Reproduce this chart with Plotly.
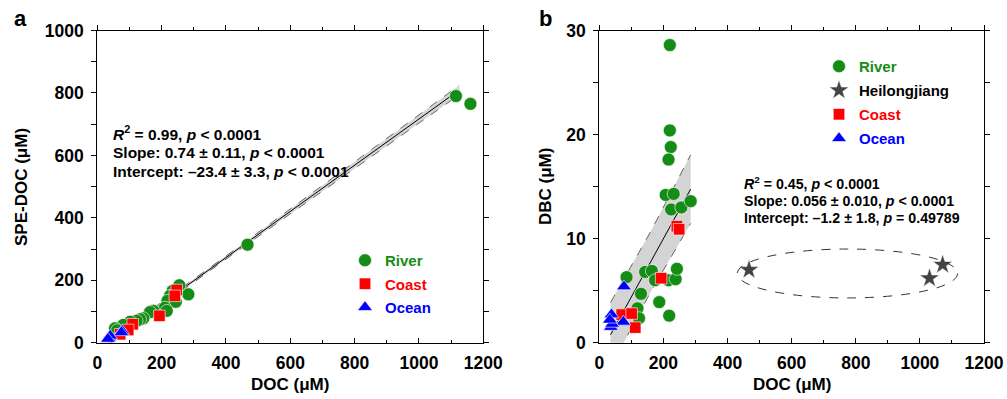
import plotly.graph_objects as go

# ---------------- Panel a data (DOC vs SPE-DOC, µM) ----------------
a_river_doc = [1115, 1160, 467, 283, 255, 234, 226, 218, 244, 210, 216, 174, 164, 143, 133, 122, 102, 81, 55, 62]
a_river_spe = [790, 765, 314, 155, 184, 166, 150, 134, 131, 112, 102, 102, 98, 78, 75, 70, 67, 57, 46, 40]
a_coast_doc = [247, 241, 193, 110, 96, 71]
a_coast_spe = [169, 150, 86, 59, 41, 27]
a_ocean_doc = [77, 38, 75, 36, 40, 33]
a_ocean_spe = [38, 18, 33, 14, 22, 12]

a_fit_slope, a_fit_int = 0.74, -23.4
a_fit_x = [35, 200, 400, 600, 800, 1000, 1125]
a_fit_half = [9, 5, 5, 7, 10, 13, 15]

# ---------------- Panel b data (DOC vs DBC, µM) ----------------
b_river_doc = [220, 220, 223, 216, 207, 232, 224, 256, 285, 85, 143, 164, 174, 216, 238, 242, 130, 187, 218, 119, 124]
b_river_dbc = [28.6, 20.4, 18.8, 17.6, 14.2, 14.3, 12.8, 13.0, 13.6, 6.3, 6.8, 6.9, 6.0, 6.0, 6.1, 7.1, 4.7, 3.9, 2.6, 3.3, 2.35]
b_heil_doc = [467, 1030, 1071]
b_heil_dbc = [7.0, 6.2, 7.5]
b_coast_doc = [242, 249, 193, 70, 101, 112]
b_coast_dbc = [11.2, 10.9, 6.2, 2.7, 2.8, 1.45]
b_ocean_doc = [77, 38, 75, 36, 40, 33]
b_ocean_dbc = [5.4, 2.7, 2.0, 1.5, 1.8, 2.2]

b_fit_slope, b_fit_int = 0.056, -1.2
b_fit_x = [35, 160, 285]
b_fit_half = [3.1, 2.9, 3.3]

# Heilongjiang ellipse extent (data units)
ell_doc = [430, 1118]
ell_dbc = [4.3, 9.0]

a_stats = ["<i>R</i><sup>2</sup> = 0.99, <i>p</i> < 0.0001",
           "Slope: 0.74 ± 0.11, <i>p</i> < 0.0001",
           "Intercept: –23.4 ± 3.3, <i>p</i> < 0.0001"]
b_stats = ["<i>R</i><sup>2</sup> = 0.45, <i>p</i> < 0.0001",
           "Slope: 0.056 ± 0.010, <i>p</i> < 0.0001",
           "Intercept: –1.2 ± 1.8, <i>p</i> = 0.49789"]

GREEN = "#158c15"
RED = "#ff0000"
BLUE = "#0000ff"
STAR = "#444444"
FONT = "Liberation Sans, Arial, Helvetica, sans-serif"

W, H = 1007, 399
def px(x): return x / W
def py(y): return 1 - y / H

fig = go.Figure()

def band(xs, half, slope, inter, xa, ya):
    up = [slope * x + inter + h for x, h in zip(xs, half)]
    lo = [slope * x + inter - h for x, h in zip(xs, half)]
    fig.add_trace(go.Scatter(x=xs + xs[::-1], y=up + lo[::-1], fill="toself",
                             fillcolor="#d4d4d4", line=dict(width=0), mode="lines",
                             showlegend=False, hoverinfo="skip", xaxis=xa, yaxis=ya))
    for arr in (up, lo):
        fig.add_trace(go.Scatter(x=xs, y=arr, mode="lines",
                                 line=dict(color="#666666", width=1, dash="dash"),
                                 showlegend=False, hoverinfo="skip", xaxis=xa, yaxis=ya))
    fig.add_trace(go.Scatter(x=[xs[0], xs[-1]], y=[slope * xs[0] + inter, slope * xs[-1] + inter],
                             mode="lines", line=dict(color="black", width=1),
                             showlegend=False, hoverinfo="skip", xaxis=xa, yaxis=ya))

band(a_fit_x, a_fit_half, a_fit_slope, a_fit_int, "x", "y")
band(b_fit_x, b_fit_half, b_fit_slope, b_fit_int, "x2", "y2")

def lab(text, color):
    return f"<span style='color:{color}'><b>{text}</b></span>"

mk_line = dict(color="white", width=0.6)
SZ_C, SZ_S, SZ_T, SZ_STAR = 13, 11.5, 13, 15

# panel a
fig.add_trace(go.Scatter(x=a_river_doc, y=a_river_spe, mode="markers", name=lab("River", GREEN),
                         marker=dict(symbol="circle", size=SZ_C, color=GREEN, line=mk_line),
                         xaxis="x", yaxis="y", legend="legend", legendgroup="ar"))
fig.add_trace(go.Scatter(x=a_coast_doc, y=a_coast_spe, mode="markers", name=lab("Coast", RED),
                         marker=dict(symbol="square", size=SZ_S, color=RED, line=mk_line),
                         xaxis="x", yaxis="y", legend="legend", legendgroup="ac"))
fig.add_trace(go.Scatter(x=a_ocean_doc, y=a_ocean_spe, mode="markers", name=lab("Ocean", BLUE),
                         marker=dict(symbol="triangle-up", size=SZ_T, color=BLUE, line=mk_line),
                         xaxis="x", yaxis="y", legend="legend", legendgroup="ao"))

# panel b
fig.add_trace(go.Scatter(x=b_river_doc, y=b_river_dbc, mode="markers", name=lab("River", GREEN),
                         marker=dict(symbol="circle", size=SZ_C, color=GREEN, line=mk_line),
                         xaxis="x2", yaxis="y2", legend="legend2", legendgroup="br"))
fig.add_trace(go.Scatter(x=b_heil_doc, y=b_heil_dbc, mode="markers", name=lab("Heilongjiang", "black"),
                         marker=dict(symbol="star", size=SZ_STAR, color=STAR, line=mk_line),
                         xaxis="x2", yaxis="y2", legend="legend2", legendgroup="bh"))
fig.add_trace(go.Scatter(x=b_coast_doc, y=b_coast_dbc, mode="markers", name=lab("Coast", RED),
                         marker=dict(symbol="square", size=SZ_S, color=RED, line=mk_line),
                         xaxis="x2", yaxis="y2", legend="legend2", legendgroup="bc"))
fig.add_trace(go.Scatter(x=b_ocean_doc, y=b_ocean_dbc, mode="markers", name=lab("Ocean", BLUE),
                         marker=dict(symbol="triangle-up", size=SZ_T, color=BLUE, line=mk_line),
                         xaxis="x2", yaxis="y2", legend="legend2", legendgroup="bo"))

# dummy traces so the top tick axes render
for xa in ("x3", "x4"):
    fig.add_trace(go.Scatter(x=[None], y=[None], xaxis=xa, yaxis="y" if xa == "x3" else "y2",
                             showlegend=False, hoverinfo="skip"))

fig.add_shape(type="circle", xref="x2", yref="y2", x0=ell_doc[0], x1=ell_doc[1],
              y0=ell_dbc[0], y1=ell_dbc[1], line=dict(color="#333333", width=1, dash="dash"))

tickfont = dict(family=FONT, size=17.5, color="black", weight="bold")
dom_a = [px(97.3), px(483.3)]
dom_b = [px(599.3), px(984)]
dom_y = [py(342.7), py(30.5)]

def xax(dom, anchor):
    return dict(domain=dom, anchor=anchor, range=[0, 1200], dtick=200, tick0=0,
                showline=True, linecolor="black", linewidth=1, mirror=True,
                ticks="inside", ticklen=5, tickcolor="black", tickwidth=1, ticklabelstandoff=4,
                minor=dict(dtick=100, ticks="inside", ticklen=3, tickcolor="black"),
                showgrid=False, zeroline=False, tickfont=tickfont, automargin=False, fixedrange=True)

def xtop(over, anchor):
    return dict(overlaying=over, matches=over, side="top", anchor=anchor, range=[0, 1200],
                dtick=200, tick0=0, showline=False, ticks="outside", ticklen=5, tickcolor="black",
                minor=dict(dtick=100, ticks="outside", ticklen=3, tickcolor="black"),
                showticklabels=False, showgrid=False, zeroline=False, automargin=False)

def yax(rng, dt, mdt, anchor):
    return dict(domain=dom_y, anchor=anchor, range=rng, dtick=dt, tick0=0,
                showline=True, linecolor="black", linewidth=1, mirror="allticks",
                ticks="outside", ticklen=5, tickcolor="black", tickwidth=1, ticklabelstandoff=4,
                minor=dict(dtick=mdt, ticks="outside", ticklen=3, tickcolor="black"),
                showgrid=False, zeroline=False, tickfont=tickfont, automargin=False, fixedrange=True)

legfont = dict(family=FONT, size=15)
fig.update_layout(
    width=W, height=H, margin=dict(l=0, r=0, t=0, b=0),
    paper_bgcolor="white", plot_bgcolor="white",
    font=dict(family=FONT, color="black"),
    xaxis=xax(dom_a, "y"), yaxis=yax([0, 1000], 200, 100, "x"),
    xaxis2=xax(dom_b, "y2"), yaxis2=yax([0, 30], 10, 5, "x2"),
    xaxis3=xtop("x", "y"), xaxis4=xtop("x2", "y2"),
    legend=dict(x=px(345), y=py(244), xanchor="left", yanchor="top", bgcolor="rgba(0,0,0,0)",
                font=legfont, itemwidth=30, tracegroupgap=1, traceorder="grouped"),
    legend2=dict(x=px(819), y=py(50), xanchor="left", yanchor="top", bgcolor="rgba(0,0,0,0)",
                 font=legfont, itemwidth=30, tracegroupgap=1.5, traceorder="grouped"),
    showlegend=True,
)

ann = []
def text(x, y, t, size=13, xanchor="left", bold=True, angle=0, yanchor="middle"):
    ann.append(dict(xref="paper", yref="paper", x=px(x), y=py(y), text=t, showarrow=False,
                    xanchor=xanchor, yanchor=yanchor, textangle=angle,
                    font=dict(family=FONT, size=size, color="black", weight="bold" if bold else "normal")))

for i, t in enumerate(a_stats):
    text(111, 133 + i * 19, t, size=15.5)
for i, t in enumerate(b_stats):
    text(742, 183 + i * 17.5, t, size=14.2)

text(12, 18, "a", size=22)
text(537, 18, "b", size=22)
text(290, 384, "DOC (μM)", size=17, xanchor="center")
text(792, 384, "DOC (μM)", size=17, xanchor="center")
text(21, 187, "SPE-DOC (μM)", size=17, xanchor="center", angle=-90)
text(545, 187, "DBC (μM)", size=17, xanchor="center", angle=-90)
fig.update_layout(annotations=ann)

fig.write_html("out.html", config={"displayModeBar": False},
               post_script="document.body.style.margin='0px';document.body.style.overflow='hidden';")
